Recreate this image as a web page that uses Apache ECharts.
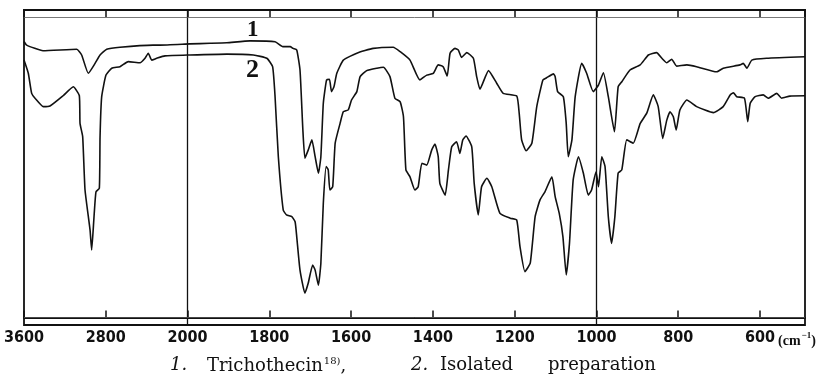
<!DOCTYPE html>
<html><head><meta charset="utf-8">
<script src="https://cdn.jsdelivr.net/npm/echarts@6/dist/echarts.min.js"></script>
<style>html,body{margin:0;padding:0;background:#fff}#c{width:835px;height:378px}</style>
</head><body><div id="c"></div>
<script>
// Wavenumbers (cm-1) and transmittance (%)
const wn1 = [3600,3574,3414,3084,3036,2971,2905,2856,2791,2661,2338,2270,1994,1945,1904,1847,1786,1767,1749,1742,1733,1725,1718,1713,1705,1696,1688,1680,1674,1668,1660,1653,1648,1642,1635,1619,1586,1546,1497,1480,1456,1432,1415,1399,1387,1375,1365,1358,1346,1338,1330,1317,1301,1293,1285,1264,1244,1228,1195,1189,1183,1172,1158,1146,1131,1122,1105,1101,1095,1081,1074,1069,1060,1052,1036,1024,1008,995,983,971,956,947,938,918,893,873,853,840,828,816,804,779,755,706,690,649,641,632,620,584,490];
const t1 = [92,90.8,88.9,89.4,87.5,81.4,84.7,87.5,89.4,90.1,90.8,90.8,91.2,91.4,91.6,92.2,91.9,90.3,90.3,89.7,89.2,82.5,62.5,53.1,55.8,59.2,53.6,48.1,53.6,71.4,79.2,79.4,75.3,76.9,81.4,85.8,88.1,89.7,90.1,88.6,85.8,79.2,80.8,81.4,84.2,83.6,80.5,88.1,89.7,89.2,86.7,88.3,86.4,80.3,76.1,82.3,78.1,74.7,73.8,68.1,59.2,55.6,58.1,70.3,79.2,79.9,81.2,80.3,75.3,73.6,64.8,53.6,59.2,73.6,84.7,81.4,75.3,77.5,81.6,73.6,61.9,76.9,78.6,82.5,84.2,87.5,88.3,86.4,84.9,86.1,83.8,84.2,83.6,81.9,83.1,84.2,84.7,83.1,85.8,86.4,86.9];
const wn2 = [3600,3558,3525,3492,3411,3346,3215,3118,3059,3052,3026,3003,2954,2938,2915,2896,2863,2856,2840,2798,2742,2661,2580,2465,2416,2384,2351,2302,2221,1994,1904,1839,1806,1792,1786,1778,1766,1758,1745,1737,1733,1725,1713,1705,1694,1688,1680,1674,1668,1661,1656,1652,1645,1639,1627,1619,1607,1599,1586,1578,1562,1537,1521,1505,1493,1480,1472,1466,1456,1444,1436,1427,1415,1403,1395,1387,1383,1370,1362,1354,1342,1334,1327,1319,1305,1299,1289,1281,1268,1256,1236,1211,1195,1187,1175,1162,1150,1138,1126,1109,1101,1091,1082,1074,1066,1057,1044,1032,1020,1012,1001,995,987,979,971,963,955,947,938,926,910,893,877,861,849,838,828,820,812,805,796,779,755,714,690,673,665,657,638,630,624,612,592,580,559,547,527,490];
const t2 = [85.8,81.4,74.7,73.1,70.3,70.5,74,76.9,74,64.7,60.3,42.5,29.2,22.5,33.6,41.9,43.1,60.3,73.6,80.8,83.1,83.6,85.3,84.9,86.4,88.1,85.8,86.4,87.2,87.5,87.8,87.5,86.4,83.6,73.6,53.6,35.8,34.2,33.6,31.9,26.9,15.8,8.1,11.4,17.5,15.8,10.8,18.1,38.1,50.3,49.2,42.5,43.6,58.1,64.7,68.6,69.2,72.5,75.3,80.3,82.3,83.1,83.4,80.3,73.1,71.9,66.9,49.2,46.9,42.5,43.6,51.4,50.8,55.8,57.8,53.6,44.7,40.8,49.2,56.9,58.6,54.7,59.2,60.5,56.9,44.7,34.2,43.6,46.4,43.6,34.7,33.1,32.5,23.6,15.3,18.1,33.6,39.2,41.9,46.9,40.3,34.7,26.9,14.2,24.7,45.8,53.6,48.1,40.8,42.5,48.6,43.6,53.6,50.3,33.6,24.7,33.6,48.1,49.2,59.2,58.1,64.7,68.1,74.2,70.3,59.7,65.8,68.6,66.9,62.5,69.2,72.5,70.3,68.3,70.3,74.2,74.9,73.6,73.1,65.3,71.4,73.6,74.2,73.1,74.7,73.1,73.8,73.9];
const tickLabels = [3600,2800,2000,1800,1600,1400,1200,1000,800,600];
const seriesNames = ['1. Trichothecin', '2. Isolated preparation'];

// Spectrometer scale: 3600-2000 is compressed 4x relative to 2000-490
function pos(w){ return w >= 2000 ? (3600 - w) / 4 : 400 + (2000 - w); }
function wnOf(p){ return p <= 400 ? 3600 - 4 * p : 2400 - p; }
const maxPos = pos(490);

const d1 = wn1.map((w,i)=>[pos(w), t1[i]]);
const d2 = wn2.map((w,i)=>[pos(w), t2[i]]);

const chart = echarts.init(document.getElementById('c'), null, {renderer:'canvas'});
const axisCommon = {
  type:'value', min:0, max:maxPos, interval:200,
  splitLine:{show:false},
  axisLine:{show:true, lineStyle:{color:'#111', width:2}},
  axisTick:{show:true, inside:true, length:7, lineStyle:{color:'#111', width:1.5}}
};
chart.setOption({
  animation:false,
  grid:{left:24, right:30, top:10, bottom:53, show:true, borderColor:'#111', borderWidth:1.8},
  xAxis:[
    Object.assign({}, axisCommon, {position:'bottom',
      axisLabel:{show:true, margin:5, color:'#111', fontSize:16, fontWeight:'bold',
        fontFamily:'"DejaVu Sans Condensed","Liberation Sans Narrow",sans-serif',
        showMaxLabel:false,
        formatter:function(v){ const w = Math.round(wnOf(v)); return (Math.abs(v % 200) < 1e-6 && tickLabels.indexOf(w) >= 0) ? String(w) : ''; }}}),
    Object.assign({}, axisCommon, {position:'top', axisLabel:{show:false}})
  ],
  yAxis:{type:'value', min:-2.5, max:102.5, show:false},
  series:[
    {name:seriesNames[0], type:'line', data:d1, showSymbol:false, smooth:0.15,
     lineStyle:{color:'#111', width:1.6},
     markLine:{silent:true, symbol:'none', label:{show:false},
       lineStyle:{color:'#111', width:1.3, type:'solid'},
       data:[{xAxis:pos(2000)},{xAxis:pos(1000)}]}},
    {name:seriesNames[1], type:'line', data:d2, showSymbol:false, smooth:0.15,
     lineStyle:{color:'#111', width:1.6},
     markLine:{silent:true, symbol:'none', label:{show:false},
       lineStyle:{color:'#555', width:0.8, type:'solid'},
       data:[{yAxis:0},{yAxis:100}]}}
  ],
  graphic:[
    {type:'text', left:247, top:19, style:{text:'1', font:'bold 23px "Liberation Serif",serif', fill:'#111'}},
    {type:'text', left:246, top:57, style:{text:'2', font:'bold 26px "Liberation Serif",serif', fill:'#111'}},
    {type:'text', left:778, top:331, style:{text:'{a|(cm}{s|−1}{a|)}', rich:{
      a:{font:'bold 14px "Liberation Serif",serif', fill:'#111', verticalAlign:'bottom'},
      s:{font:'bold 9px "Liberation Serif",serif', fill:'#111', verticalAlign:'top', padding:[0,0,8,1]}}}},
    {type:'text', left:170, top:356, style:{text:'1.', font:'italic 18px "DejaVu Serif",serif', fill:'#111'}},
    {type:'text', left:207, top:356, style:{text:'{a|Trichothecin}{s|18)}{a|,}', rich:{
      a:{font:'18px "DejaVu Serif",serif', fill:'#111', verticalAlign:'bottom'},
      s:{font:'10px "DejaVu Serif",serif', fill:'#111', verticalAlign:'top', padding:[0,0,9,1]}}}},
    {type:'text', left:411, top:356, style:{text:'2.', font:'italic 18px "DejaVu Serif",serif', fill:'#111'}},
    {type:'text', left:440, top:356, style:{text:'Isolated', font:'18px "DejaVu Serif",serif', fill:'#111'}},
    {type:'text', left:548, top:356, style:{text:'preparation', font:'18px "DejaVu Serif",serif', fill:'#111'}}
  ]
});
</script></body></html>
